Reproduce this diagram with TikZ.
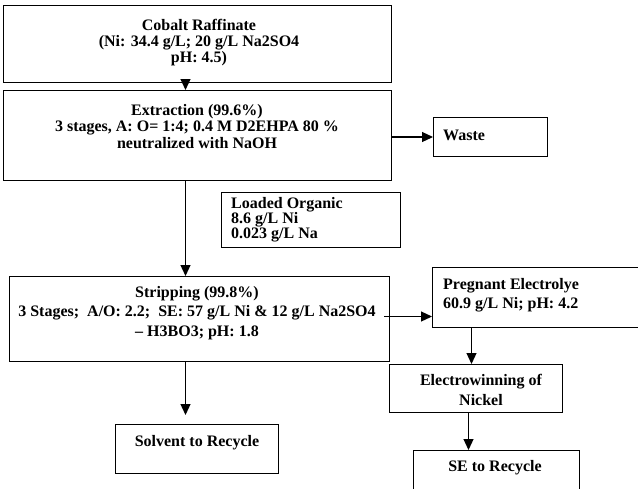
\documentclass[tikz,border=0pt]{standalone}
\usepackage{fontspec}
\setmainfont{Liberation Serif}
\usetikzlibrary{arrows.meta}
\begin{document}
\begin{tikzpicture}[x=1pt,y=-1pt,
  box/.style={draw, line width=1pt, inner sep=0pt, anchor=north west},
  lbl/.style={font=\bfseries\fontsize{16}{16.2}\selectfont, inner sep=0pt, align=center},
  flow/.style={line width=1.2pt, -{Triangle[length=11pt,width=10pt]}}]
\useasboundingbox (0,0) rectangle (638,488);
\clip (0,0) rectangle (638,488);

% process boxes
\node[box, minimum width=388pt, minimum height=77pt] (cobalt)  at (3,5) {};
\node[box, minimum width=388pt, minimum height=90pt] (extract) at (3,90) {};
\node[box, minimum width=114pt, minimum height=39pt] (waste)   at (433,117) {};
\node[box, minimum width=179pt, minimum height=55pt] (loaded)  at (221,192) {};
\node[box, minimum width=380pt, minimum height=85pt] (strip)   at (9,276) {};
\node[box, minimum width=163pt, minimum height=49pt] (solvent) at (115,424) {};
\node[box, minimum width=213pt, minimum height=60pt] (preg)    at (432,267) {};
\node[box, minimum width=173pt, minimum height=48pt] (electro) at (389,364) {};
\node[box, minimum width=166pt, minimum height=50pt] (serec)   at (413,450) {};

% box texts
\node[lbl, anchor=north] at (199,19) {Cobalt Raffinate\\(Ni: 34.4 g/L; 20 g/L Na2SO4\\pH: 4.5)};
\node[lbl, anchor=north, font=\bfseries\fontsize{16}{16.6}\selectfont] at (197,104)
  {Extraction (99.6\%)\\3 stages, A: O= 1:4; 0.4 M D2EHPA 80 \%\\neutralized with NaOH};
\node[lbl, anchor=base west] at (443,140) {Waste};
\node[lbl, anchor=north west, align=left, font=\bfseries\fontsize{16}{14.5}\selectfont] at (231,197)
  {Loaded Organic\\8.6 g/L Ni\\0.023 g/L Na};
\node[lbl, anchor=north, font=\bfseries\fontsize{16}{19.5}\selectfont] at (197,286)
  {Stripping (99.8\%)\\3 Stages;\ \ A/O: 2.2;\ \ SE: 57 g/L Ni \& 12 g/L Na2SO4\\– H3BO3; pH: 1.8};
\node[lbl, anchor=base] at (197,446) {Solvent to Recycle};
\node[lbl, anchor=north west, align=left, font=\bfseries\fontsize{16}{19.5}\selectfont] at (443,278)
  {Pregnant Electrolye\\60.9 g/L Ni; pH: 4.2};
\node[lbl, anchor=north, font=\bfseries\fontsize{16}{20}\selectfont] at (481,374)
  {Electrowinning of\\Nickel};
\node[lbl, anchor=base] at (495,471) {SE to Recycle};

% connectors
\draw[flow] ([xshift=-12pt]cobalt.south) -- ([xshift=-12pt]extract.north);
\coordinate (e1) at ([xshift=-12pt]extract.south);
\draw[flow] (e1) -- (e1 |- strip.north);
\draw[flow] (waste.west -| extract.east) -- (waste.west);
\coordinate (s1) at ([xshift=-6pt,yshift=2.5pt]strip.east);
\draw[flow] (s1) -- (s1 -| preg.west);
\coordinate (s2) at ([xshift=-14pt]strip.south);
\draw[flow, shorten >=9pt] (s2) -- (s2 |- solvent.north);
\coordinate (p1) at ([xshift=-4.5pt]electro.north);
\draw[flow] (p1 |- preg.south) -- (p1);
\coordinate (w1) at ([xshift=-7.5pt]electro.south);
\draw[flow] (w1) -- (w1 |- serec.north);
\end{tikzpicture}
\end{document}
